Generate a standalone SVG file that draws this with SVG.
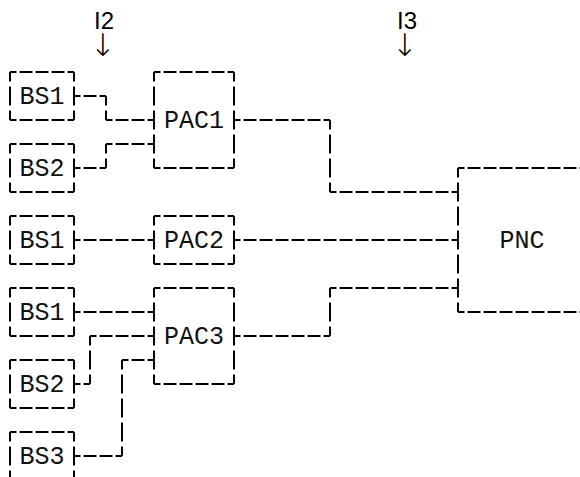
<svg xmlns="http://www.w3.org/2000/svg" width="580" height="477" viewBox="0 0 580 477">
<style>
.h{fill:none;stroke:#000;stroke-width:2;stroke-dasharray:13 3;stroke-dashoffset:6.5}
.v{fill:none;stroke:#000;stroke-width:2;stroke-dasharray:19 5;stroke-dashoffset:9.5}
.t{font-family:"Liberation Mono","Courier New",monospace;font-size:25px;fill:#111;text-anchor:middle}
.s{font-family:"Liberation Sans",Arial,sans-serif;font-size:24px;fill:#000;text-anchor:middle}
.a{font-family:"DejaVu Sans",sans-serif;font-size:31px;font-weight:200;fill:#000;text-anchor:middle}
</style>
<rect width="580" height="477" fill="#fff"/>
<g id="labels">
<text class="s" x="104" y="29">I2</text>
<text class="a" x="103" y="56">↓</text>
<text class="s" x="407" y="29">I3</text>
<text class="a" x="405" y="56">↓</text>
</g>
<g id="connectors">
<path class="h" d="M74 96H106M106 120H154M74 168H106M106 144H154M234 120H330M330 192H458M74 240H154M234 240H458M74 312H154M90 336H154M122 360H154M74 384H90M74 456H122M234 336H330M330 288H458"/>
<path class="v" d="M106 96V120M106 144V168M330 120V192M90 336V384M122 360V456M330 288V336"/>
</g>
<g id="bs1a"><path class="h" d="M10 72H74M10 120H74"/><path class="v" d="M10 72V120M74 72V120"/><text class="t" x="42" y="104">BS1</text></g>
<g id="bs2a"><path class="h" d="M10 144H74M10 192H74"/><path class="v" d="M10 144V192M74 144V192"/><text class="t" x="42" y="176">BS2</text></g>
<g id="bs1b"><path class="h" d="M10 216H74M10 264H74"/><path class="v" d="M10 216V264M74 216V264"/><text class="t" x="42" y="248">BS1</text></g>
<g id="bs1c"><path class="h" d="M10 288H74M10 336H74"/><path class="v" d="M10 288V336M74 288V336"/><text class="t" x="42" y="320">BS1</text></g>
<g id="bs2c"><path class="h" d="M10 360H74M10 408H74"/><path class="v" d="M10 360V408M74 360V408"/><text class="t" x="42" y="392">BS2</text></g>
<g id="bs3"><path class="h" d="M10 432H74"/><path class="v" d="M10 432V480M74 432V480"/><text class="t" x="42" y="464">BS3</text></g>
<g id="pac1"><path class="h" d="M154 72H234M154 168H234"/><path class="v" d="M154 72V168M234 72V168"/><text class="t" x="194" y="128">PAC1</text></g>
<g id="pac2"><path class="h" d="M154 216H234M154 264H234"/><path class="v" d="M154 216V264M234 216V264"/><text class="t" x="194" y="248">PAC2</text></g>
<g id="pac3"><path class="h" d="M154 288H234M154 384H234"/><path class="v" d="M154 288V384M234 288V384"/><text class="t" x="194" y="344">PAC3</text></g>
<g id="pnc"><path class="h" d="M458 168H586M458 312H586"/><path class="v" d="M458 168V312"/><text class="t" x="522" y="248">PNC</text></g>
</svg>
